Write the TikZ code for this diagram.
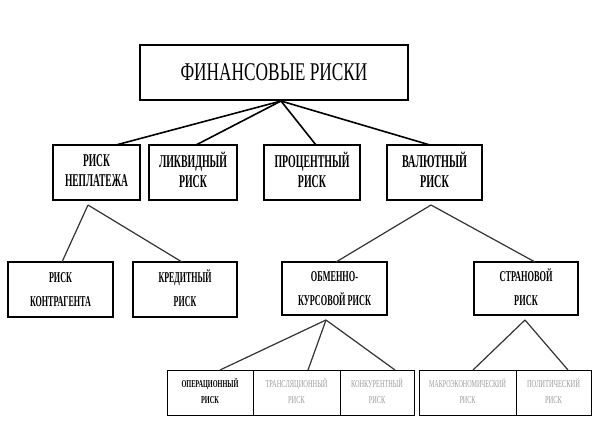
\documentclass[tikz,border=0pt]{standalone}
\usepackage{fontspec}
\setmainfont{Liberation Serif}
\usepackage{graphicx}
\newlength\wa
\newlength\wb
% #1 font, #2 target width of widest line, #3 line1, #4 line2
\newcommand\twol[4]{%
  \settowidth\wa{#1#3}\settowidth\wb{#1#4}%
  \ifdim\wb>\wa \wa=\wb\fi
  \pgfmathsetmacro\sx{#2/\wa}%
  \scalebox{\sx}[1]{#1\begin{tabular}{@{}c@{}}#3\\#4\end{tabular}}}
\newcommand\onel[3]{%
  \settowidth\wa{#1#3}%
  \pgfmathsetmacro\sx{#2/\wa}%
  \scalebox{\sx}[1]{#1#3}}
\definecolor{lightgr}{HTML}{9A9A9A}
\definecolor{linegr}{HTML}{333333}
\tikzset{
  box/.style={draw, inner sep=0pt, outer sep=0pt, line width=1.2pt},
  topbox/.style={box, line width=1.8pt},
  cell/.style={box, line width=1pt},
  conn/.style={line width=1.6pt},
  conn2/.style={line width=1.2pt, draw=linegr}
}
\newcommand\fA{\fontsize{25.5}{30}\selectfont}
\newcommand\fB{\fontsize{18}{20}\selectfont\bfseries}
\newcommand\fC{\fontsize{15}{24}\selectfont\bfseries}
\newcommand\fD{\fontsize{10.5}{16}\selectfont\bfseries}
\newcommand\fE{\fontsize{10.5}{16}\selectfont\color{lightgr}}
\begin{document}
\begin{tikzpicture}[x=1pt,y=-1pt]
\useasboundingbox (0,0) rectangle (595,442);
% top
\node[topbox, minimum width=268, minimum height=55] (top) at (274,72.5) {\onel{\fA}{187}{ФИНАНСОВЫЕ РИСКИ}};
% level 2
\node[box, minimum width=87, minimum height=55] (b1) at (96.5,172.5) {\twol{\fB}{63}{РИСК}{НЕПЛАТЕЖА}};
\node[box, minimum width=88, minimum height=55] (b2) at (193,172.5) {\twol{\fB}{68}{ЛИКВИДНЫЙ}{РИСК}};
\node[box, minimum width=96, minimum height=55] (b3) at (312,172.5) {\twol{\fB}{75}{ПРОЦЕНТНЫЙ}{РИСК}};
\node[box, minimum width=95, minimum height=55] (b4) at (434.5,172.5) {\twol{\fB}{65}{ВАЛЮТНЫЙ}{РИСК}};
% level 3
\node[box, minimum width=105, minimum height=55] (b5) at (60.5,289.5) {\twol{\fC}{61}{РИСК}{КОНТРАГЕНТА}};
\node[box, minimum width=104, minimum height=55] (b6) at (185,289.5) {\twol{\fC}{53}{КРЕДИТНЫЙ}{РИСК}};
\node[box, minimum width=105, minimum height=53] (b7) at (334.5,288.5) {\twol{\fC}{73}{ОБМЕННО-}{КУРСОВОЙ РИСК}};
\node[box, minimum width=104, minimum height=53] (b8) at (526,288.5) {\twol{\fC}{53}{СТРАНОВОЙ}{РИСК}};
% level 4
\node[cell, minimum width=86, minimum height=45] (c1) at (210,392.5) {\twol{\fD}{57}{ОПЕРАЦИОННЫЙ}{РИСК}};
\node[cell, minimum width=87, minimum height=45] (c2) at (296.5,392.5) {\twol{\fE}{62}{ТРАНСЛЯЦИОННЫЙ}{РИСК}};
\node[cell, minimum width=74, minimum height=45] (c3) at (377,392.5) {\twol{\fE}{52}{КОНКУРЕНТНЫЙ}{РИСК}};
\node[cell, minimum width=97, minimum height=45] (c4) at (467.5,392.5) {\twol{\fE}{77}{МАКРОЭКОНОМИЧЕСКИЙ}{РИСК}};
\node[cell, minimum width=75, minimum height=45] (c5) at (553.5,392.5) {\twol{\fE}{53}{ПОЛИТИЧЕСКИЙ}{РИСК}};
% connectors from top
\draw[conn] ([xshift=7pt,yshift=-1pt]top.south) -- ([xshift=19.5pt]b1.north);
\draw[conn] ([xshift=7pt,yshift=-1pt]top.south) -- ([xshift=3pt]b2.north);
\draw[conn] ([xshift=7pt,yshift=-1pt]top.south) -- ([xshift=4pt]b3.north);
\draw[conn] ([xshift=7pt,yshift=-1pt]top.south) -- ([xshift=-4.5pt]b4.north);
% level 2 -> 3
\draw[conn2] ([xshift=-8.5pt,yshift=-5pt]b1.south) -- ([xshift=1.5pt]b5.north);
\draw[conn2] ([xshift=-8.5pt,yshift=-5pt]b1.south) -- ([xshift=-3pt]b6.north);
\draw[conn2] ([xshift=-3.5pt,yshift=-5pt]b4.south) -- ([xshift=1.5pt]b7.north);
\draw[conn2] ([xshift=-3.5pt,yshift=-5pt]b4.south) -- ([xshift=9pt]b8.north);
% level 3 -> 4
\draw[conn2] ([xshift=-8.5pt,yshift=-5pt]b7.south) -- ([xshift=10pt]c1.north);
\draw[conn2] ([xshift=-8.5pt,yshift=-5pt]b7.south) -- ([xshift=11.5pt]c2.north);
\draw[conn2] ([xshift=-8.5pt,yshift=-5pt]b7.south) -- ([xshift=18pt]c3.north);
\draw[conn2] ([xshift=-1pt,yshift=-5pt]b8.south) -- ([xshift=5.5pt]c4.north);
\draw[conn2] ([xshift=-1pt,yshift=-5pt]b8.south) -- ([xshift=14.5pt]c5.north);
\end{tikzpicture}
\end{document}
